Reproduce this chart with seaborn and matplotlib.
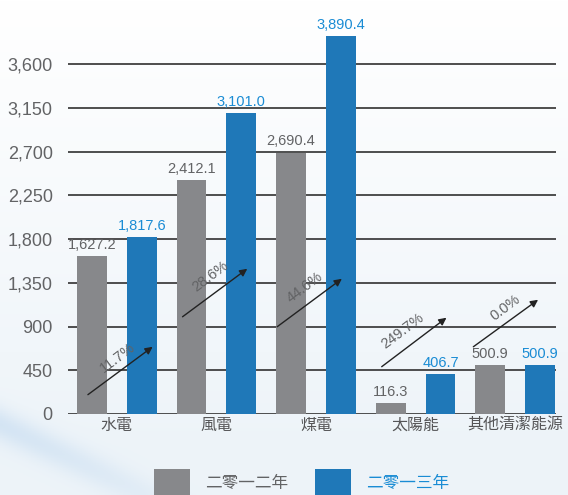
import numpy as np
import pandas as pd
import matplotlib
matplotlib.use("Agg")
import matplotlib.pyplot as plt
import seaborn as sns
from matplotlib.patches import Patch

# ---- data -------------------------------------------------------------
categories = ["水電", "風電", "煤電", "太陽能", "其他清潔能源"]
years = ["二零一二年", "二零一三年"]
values_2012 = [1627.2, 2412.1, 2690.4, 116.3, 500.9]
values_2013 = [1817.6, 3101.0, 3890.4, 406.7, 500.9]
y_ticks = [0, 450, 900, 1350, 1800, 2250, 2700, 3150, 3600]

# growth arrows: (start dx, start y, end dx, end y) relative to each category
arrow_layout = [(-0.29, 199, 0.36, 692),
                (-0.34, 1001, 0.31, 1495),
                (-0.39, 898, 0.26, 1392),
                (-0.34, 487, 0.31, 991),
                (-0.42, 692, 0.23, 1176)]
# growth label centre: (dx, y)
growth_text_pos = [(0.01, 580), (-0.06, 1420), (-0.11, 1300), (-0.13, 860), (-0.10, 1095)]

GRAY = "#87888b"
BLUE = "#1f78b8"
GRAY_TXT = "#626365"
BLUE_TXT = "#1a8cd4"
CJK = ["Noto Sans CJK TC", "DejaVu Sans"]

df = pd.DataFrame({
    "category": categories * 2,
    "year": [years[0]] * len(categories) + [years[1]] * len(categories),
    "value": values_2012 + values_2013,
})

sns.set_theme(style="white")
plt.rcParams["font.family"] = ["Liberation Sans", "Noto Sans CJK TC", "DejaVu Sans"]

W, H = 568, 495
fig = plt.figure(figsize=(W / 100, H / 100), dpi=100)

# soft bluish background
bg = fig.add_axes([0, 0, 1, 1], zorder=-10)
yy, xx = np.mgrid[0:1:200j, 0:1:200j]
top = np.array([1.0, 1.0, 1.0])
bot = np.array([0.93, 0.955, 0.975])
t = np.clip(yy * 1.1, 0, 1)[..., None]
img = top * (1 - t) + bot * t
# faint diagonal sweep at the lower left
d = np.abs((yy - 0.86) - 0.55 * xx)
band = np.exp(-(d / 0.035) ** 2) * np.clip(1 - xx * 2.2, 0, 1)
img = img - band[..., None] * np.array([0.10, 0.06, 0.02])
bg.imshow(img, extent=[0, 1, 0, 1], origin="upper", aspect="auto")
bg.set_xlim(0, 1)
bg.set_ylim(0, 1)
bg.axis("off")

ax = fig.add_axes([68 / W, 81 / H, 488 / W, 414 / H])
ax.patch.set_alpha(0)

sns.barplot(data=df, x="category", y="value", hue="year",
            palette=[GRAY, BLUE], saturation=1, width=1.0, gap=0.4,
            legend=False, linewidth=0, ax=ax)

ax.set_xlim(-0.49, 4.41)
ax.set_ylim(0, 4262)
ax.set_yticks(y_ticks)
ax.set_yticklabels([f"{v:,}" for v in y_ticks], fontsize=13, color=GRAY_TXT)
ax.set_xticks(range(len(categories)))
ax.set_xticklabels(categories, fontsize=11.5, color="#555557", family=CJK)
ax.tick_params(axis="y", length=0, pad=11)
ax.tick_params(axis="x", length=0, pad=2)
ax.set_xlabel("")
ax.set_ylabel("")
for s in ax.spines.values():
    s.set_visible(False)
ax.yaxis.grid(True, color="#404040", lw=1.3)
ax.xaxis.grid(False)
ax.set_axisbelow(True)

# value labels on bars
ax.bar_label(ax.containers[0], labels=[f"{v:,.1f}" for v in values_2012],
             padding=3, fontsize=10.5, color=GRAY_TXT)
ax.bar_label(ax.containers[1], labels=[f"{v:,.1f}" for v in values_2013],
             padding=3, fontsize=10.5, color=BLUE_TXT)

# growth arrows and percentages
for i, (a, b) in enumerate(zip(values_2012, values_2013)):
    x0, y0, x1, y1 = arrow_layout[i]
    ax.annotate("", xy=(i + x1, y1), xytext=(i + x0, y0),
                arrowprops=dict(arrowstyle="-|>", color="#222222", lw=1.0,
                                mutation_scale=11, shrinkA=0, shrinkB=0))
    g = (b / a - 1) * 100
    tx, ty = growth_text_pos[i]
    ax.text(i + tx, ty, f"{g:.1f}%", rotation=37, rotation_mode="anchor",
            ha="center", va="center", fontsize=10.5, color=GRAY_TXT)

# legend
handles = [Patch(facecolor=GRAY, edgecolor="none"), Patch(facecolor=BLUE, edgecolor="none")]
fig.legend(handles=handles, labels=years, loc="center",
           bbox_to_anchor=(0.531, 0.024), ncol=2, frameon=False,
           prop={"family": CJK, "size": 12},
           handlelength=2.15, handleheight=2.15, handletextpad=0.9,
           columnspacing=1.6, labelcolor=[GRAY_TXT, BLUE_TXT], borderpad=0)

fig.savefig("out.png", dpi=100)
